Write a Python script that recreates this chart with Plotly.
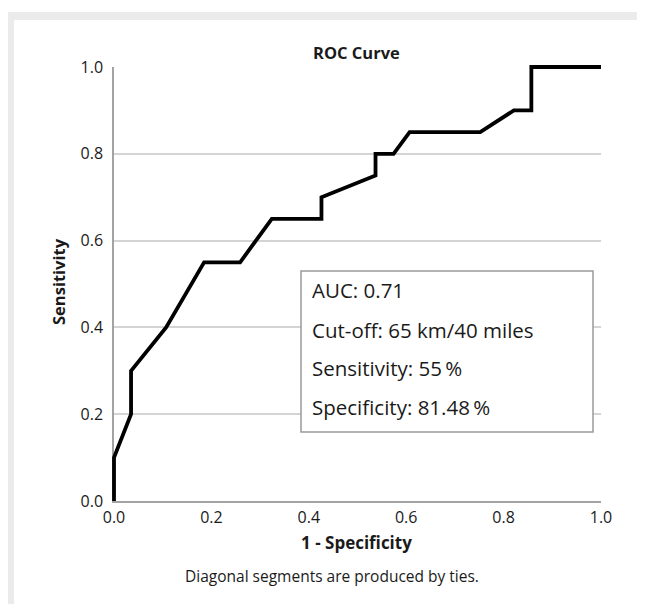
import plotly.graph_objects as go

# ---- data ----
fpr = [0.0, 0.0, 0.035, 0.035, 0.107, 0.185, 0.259, 0.324, 0.426, 0.426,
       0.537, 0.537, 0.574, 0.607, 0.752, 0.821, 0.857, 0.857, 1.0]
tpr = [0.0, 0.10, 0.20, 0.30, 0.40, 0.55, 0.55, 0.65, 0.65, 0.70,
       0.75, 0.80, 0.80, 0.85, 0.85, 0.90, 0.90, 1.0, 1.0]
tick_vals = [0.0, 0.2, 0.4, 0.6, 0.8, 1.0]
tick_text = ["0.0", "0.2", "0.4", "0.6", "0.8", "1.0"]
box_lines = ["AUC: 0.71", "Cut-off: 65 km/40 miles", "Sensitivity: 55\u2009%", "Specificity: 81.48\u2009%"]

FONT = "Open Sans"
TXT = "#1a1a1a"

OFF = 8  # page body margin
W, H = 645 - OFF, 604 - OFF
# plot area of main axes in page pixels
AX_L, AX_R, AX_T, AX_B = 114, 601, 67, 501
PAD = 10
L = AX_L - OFF - PAD
R = (645 - AX_R) - PAD
T = AX_T - OFF - PAD
B = (604 - AX_B) - PAD
PW, PH = W - L - R, H - T - B

def px(p):  # page x -> paper
    return (p - OFF - L) / PW

def py(p):  # page y -> paper
    return (H - B - (p - OFF)) / PH

axw, axh = AX_R - AX_L, AX_B - AX_T

fig = go.Figure()
fig.add_trace(go.Scatter(x=fpr, y=tpr, mode="lines", xaxis="x2", yaxis="y2",
                         line=dict(color="black", width=3.8), hoverinfo="skip",
                         showlegend=False))

fig.update_layout(
    width=W, height=H, autosize=False,
    margin=dict(l=L, r=R, t=T, b=B, pad=0),
    paper_bgcolor="white", plot_bgcolor="rgba(0,0,0,0)",
    font=dict(family=FONT, color=TXT, size=16),
    xaxis=dict(domain=[px(AX_L), px(AX_R)], range=[0, 1], showgrid=False, zeroline=False,
               showline=True, linecolor="#a3a3a3", linewidth=1.5,
               tickvals=tick_vals, ticktext=tick_text, ticks="outside", ticklen=1,
               tickcolor="rgba(0,0,0,0)", tickfont=dict(size=16, color=TXT), anchor="y",
               fixedrange=True),
    yaxis=dict(domain=[py(AX_B), py(AX_T)], range=[0, 1], showgrid=True, gridcolor="#d4d4d4",
               gridwidth=1.5, zeroline=False, showline=True, linecolor="#a3a3a3", linewidth=1.5,
               tickvals=tick_vals, ticktext=tick_text, ticks="outside", ticklen=6,
               tickcolor="rgba(0,0,0,0)", tickfont=dict(size=16, color=TXT), anchor="x",
               fixedrange=True),
    xaxis2=dict(domain=[0, 1], range=[-PAD / axw, 1 + PAD / axw], visible=False, anchor="y2",
                fixedrange=True),
    yaxis2=dict(domain=[0, 1], range=[-PAD / axh, 1 + PAD / axh], visible=False, anchor="x2",
                fixedrange=True),
)

shapes = []
# grey frame
shapes.append(dict(type="rect", xref="paper", yref="paper", x0=px(7), x1=px(646), y0=py(12), y1=py(20),
                   fillcolor="#ebebeb", line=dict(width=0), layer="below"))
shapes.append(dict(type="rect", xref="paper", yref="paper", x0=px(7), x1=px(14), y0=py(12), y1=py(606),
                   fillcolor="#ebebeb", line=dict(width=0), layer="below"))
shapes.append(dict(type="rect", xref="paper", yref="paper", x0=px(642), x1=px(646), y0=py(12), y1=py(606),
                   fillcolor="#ececec", line=dict(width=0), layer="below"))
# info box
shapes.append(dict(type="rect", xref="x", yref="y",
                   x0=(301 - AX_L) / axw, x1=(593 - AX_L) / axw,
                   y0=(AX_B - 432) / axh, y1=(AX_B - 271) / axh,
                   fillcolor="white", line=dict(color="#9a9a9a", width=1.5), layer="above"))
fig.update_layout(shapes=shapes)

ann = []
line_y = [290, 330, 368, 407]
for t, yy in zip(box_lines, line_y):
    ann.append(dict(text=t, xref="x", yref="y", x=(310 - AX_L) / axw, y=(AX_B - yy) / axh,
                    xanchor="left", yanchor="middle", showarrow=False,
                    font=dict(size=20.5, color=TXT, family=FONT)))
ann.append(dict(text="<b>ROC Curve</b>", xref="paper", yref="paper", x=px(356), y=py(52),
                xanchor="center", yanchor="middle", showarrow=False, font=dict(size=16.5, color=TXT)))
ann.append(dict(text="<b>1 - Specificity</b>", xref="paper", yref="paper", x=px(356), y=py(542),
                xanchor="center", yanchor="middle", showarrow=False, font=dict(size=17, color=TXT)))
ann.append(dict(text="<b>Sensitivity</b>", xref="paper", yref="paper", x=px(58), y=py(282),
                xanchor="center", yanchor="middle", textangle=-90, showarrow=False,
                font=dict(size=16.5, color=TXT)))
ann.append(dict(text="Diagonal segments are produced by ties.", xref="paper", yref="paper",
                x=px(332), y=py(576), xanchor="center", yanchor="middle", showarrow=False,
                font=dict(size=15.5, color=TXT)))
fig.update_layout(annotations=ann)

fig.write_html("out.html")
